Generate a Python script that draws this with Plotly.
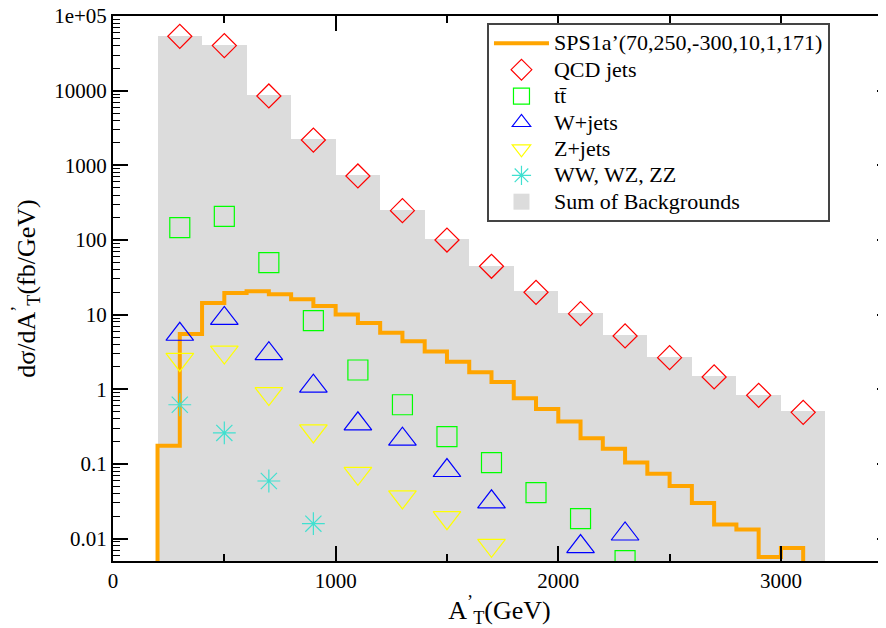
import plotly.graph_objects as go

# ---------------- data ----------------
bin_centers = [300, 500, 700, 900, 1100, 1300, 1500, 1700, 1900, 2100, 2300, 2500, 2700, 2900, 3100]
sum_bg = [54000, 40500, 8670, 2230, 735, 252, 102, 45.3, 20.5, 10.6, 5.28, 2.70, 1.49, 0.848, 0.507]
qcd = [53500, 40100, 8480, 2180, 719, 247, 99.8, 44.4, 19.9, 10.3, 5.17, 2.65, 1.46, 0.83, 0.49]

ttbar_x = [300, 500, 700, 900, 1100, 1300, 1500, 1700, 1900, 2100, 2300]
ttbar = [146, 207, 49.7, 8.3, 1.81, 0.62, 0.232, 0.104, 0.0413, 0.0185, 0.00507]

wjets_x = [300, 500, 700, 900, 1100, 1300, 1500, 1700, 2100, 2300]
wjets = [5.45, 8.9, 3.0, 1.10, 0.344, 0.214, 0.0815, 0.031, 0.0078, 0.0115]

zjets_x = [300, 500, 700, 900, 1100, 1300, 1500, 1700]
zjets = [2.51, 3.15, 0.875, 0.276, 0.0746, 0.0361, 0.019, 0.0081]

diboson_x = [300, 500, 700, 900]
diboson = [0.62, 0.26, 0.059, 0.0158]

# signal histogram: left bin edges (100 GeV bins) and values
sps_edges = [200, 300, 400, 500, 600, 700, 800, 900, 1000, 1100, 1200, 1300, 1400, 1500,
             1600, 1700, 1800, 1900, 2000, 2100, 2200, 2300, 2400, 2500, 2600, 2700, 2800,
             2900, 3000]
sps_vals = [0.175, 5.5, 14.3, 19.5, 20.5, 18.7, 16.0, 13.0, 10.0, 7.7, 5.7, 4.4, 3.2, 2.34,
            1.69, 1.25, 0.757, 0.545, 0.37, 0.22, 0.160, 0.104, 0.074, 0.0506, 0.0299,
            0.0154, 0.0132, 0.00566, 0.00747]
sps_end = 3100

y_tickvals = [0.01, 0.1, 1, 10, 100, 1000, 10000, 100000]
y_ticktext = ["0.01", "0.1", "1", "10", "100", "1000", "10000", "1e+05"]
x_tickvals = [0, 1000, 2000, 3000]
x_ticktext = ["0", "1000", "2000", "3000"]

# ---------------- figure ----------------
FONT = "Liberation Serif, Times New Roman, Times, serif"
floor = 1e-4  # below the axis, so the step line drops out of view


def lg(name):
    return '<span style="font-size:22px">' + name + '</span>'


step_x = [sps_edges[0]] + sps_edges + [sps_end]
step_y = [floor] + sps_vals + [floor]

fig = go.Figure()

fig.add_trace(go.Scatter(
    x=step_x, y=step_y, mode="lines", line=dict(color="#ffa500", width=4, shape="hv"),
    name=lg("SPS1a’(70,250,-300,10,1,171)")))
fig.add_trace(go.Scatter(
    x=bin_centers, y=qcd, mode="markers", name=lg("QCD jets"),
    marker=dict(symbol="diamond-open", size=18.5, color="#ff0000", line=dict(width=1.2))))
fig.add_trace(go.Scatter(
    x=ttbar_x, y=ttbar, mode="markers", name=lg("tt\u0304"),
    marker=dict(symbol="square-open", size=20, color="#00ff00", line=dict(width=1.2))))
fig.add_trace(go.Scatter(
    x=wjets_x, y=wjets, mode="markers", name=lg("W+jets"),
    marker=dict(symbol="triangle-up-open", size=24, color="#0000ff", line=dict(width=1.2))))
fig.add_trace(go.Scatter(
    x=zjets_x, y=zjets, mode="markers", name=lg("Z+jets"),
    marker=dict(symbol="triangle-down-open", size=24, color="#ffff00", line=dict(width=1.2))))
fig.add_trace(go.Scatter(
    x=diboson_x, y=diboson, mode="markers", name=lg("WW, WZ, ZZ"),
    marker=dict(symbol="asterisk-open", size=19, color="#40e0d0", line=dict(width=1.2, color="#40e0d0"))))
fig.add_trace(go.Bar(
    x=bin_centers, y=sum_bg, width=200, marker=dict(color="#dcdcdc", line=dict(width=0)),
    name="Sum of Backgrounds", showlegend=False))
# legend swatch for the background sum
fig.add_trace(go.Scatter(
    x=[None], y=[None], mode="markers", name=lg("Sum of Backgrounds"),
    marker=dict(symbol="square", size=20, color="#dcdcdc")))
# empty trace so the right-hand tick axis is drawn
fig.add_trace(go.Scatter(x=[None], y=[None], yaxis="y2", showlegend=False, hoverinfo="skip"))

y_minor = [m * 10 ** e for e in range(-3, 5) for m in range(2, 10)]
x_minor = [500, 1500, 2500, 3500]

# page body has an 8px default margin, so the figure is 878x620
fig.update_layout(
    width=878, height=620,
    margin=dict(l=105, r=0, t=8, b=67, autoexpand=False),
    paper_bgcolor="white", plot_bgcolor="white",
    font=dict(family=FONT, size=21, color="black"),
    bargap=0,
    showlegend=True,
    legend=dict(
        x=0.4838, y=0.987, xanchor="left", yanchor="top",
        bgcolor="white", bordercolor="#444", borderwidth=2,
        font=dict(family=FONT, size=18, color="black"),
        itemwidth=55, tracegroupgap=0,
    ),
    xaxis=dict(
        range=[0, 3472], showgrid=False, zeroline=False, automargin=False,
        showline=True, linecolor="black", linewidth=2, mirror="ticks",
        ticks="inside", ticklen=15, tickwidth=1.5, tickcolor="black",
        tickmode="array", tickvals=x_tickvals, ticktext=x_ticktext,
        ticklabeloverflow="allow",
        minor=dict(ticks="inside", ticklen=7, tickwidth=1.5, tickcolor="black",
                   tickmode="array", tickvals=x_minor),
        tickfont=dict(family=FONT, size=21),
        title=dict(text="A<sup>’</sup><sub>T</sub>(GeV)", font=dict(family=FONT, size=26), standoff=4),
    ),
    yaxis=dict(
        type="log", range=[-2.30103, 5], showgrid=False, zeroline=False, automargin=False,
        showline=True, linecolor="black", linewidth=2, mirror=False,
        ticks="inside", ticklen=15, tickwidth=1.5, tickcolor="black",
        tickmode="array", tickvals=y_tickvals, ticktext=y_ticktext,
        ticklabeloverflow="allow",
        minor=dict(ticks="inside", ticklen=7, tickwidth=1.2, tickcolor="black",
                   tickmode="array", tickvals=y_minor),
        tickfont=dict(family=FONT, size=21),
        title=dict(text="dσ/dA<sup>’</sup><sub>T</sub>(fb/GeV)", font=dict(family=FONT, size=26), standoff=15),
    ),
    yaxis2=dict(
        type="log", range=[-2.30103, 5], overlaying="y", side="right", anchor="x",
        automargin=False,
        showgrid=False, zeroline=False, showline=False, showticklabels=False,
        ticks="inside", ticklen=9, tickwidth=1.5, tickcolor="black",
        tickmode="array", tickvals=y_tickvals,
        minor=dict(ticks="inside", ticklen=2, tickwidth=1.2, tickcolor="black",
                   tickmode="array", tickvals=y_minor),
    ),
)

fig.write_html("out.html")
